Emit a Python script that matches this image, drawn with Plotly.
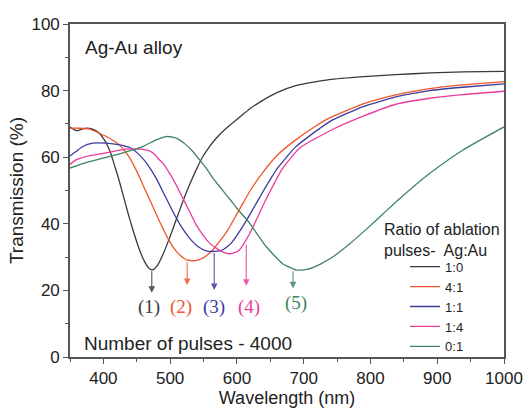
import plotly.graph_objects as go

# ---------------- data ----------------
labels = ["1:0", "4:1", "1:1", "1:4", "0:1"]
colors = ["#3a3a3a", "#f2542c", "#3b3b9c", "#ea3b9b", "#3f8463"]

wl_10 = [349, 356.5, 361.5, 369, 376.5, 386.5, 394, 401.5, 409, 416.5, 424, 431.5, 439, 446.5,
         454, 461.5, 469, 474, 481.5, 489, 499, 509, 519, 529, 539, 549, 559, 569, 584, 601.5,
         620, 638, 660, 688, 738, 790, 838, 890, 938, 1000]
tr_10 = [69.2, 68.2, 68.0, 68.5, 68.7, 68.2, 67.2, 65.2, 62.2, 57.7, 52.7, 47.2, 41.7, 36.7,
         32.2, 28.7, 26.5, 26.2, 27.7, 30.7, 35.7, 41.2, 46.7, 51.7, 56.2, 60.2, 63.2, 65.7, 68.7, 71.6,
         74.6, 77.0, 79.4, 81.5, 83.3, 84.2, 84.8, 85.3, 85.6, 85.8]

wl_41 = [349, 364, 379, 394, 409, 424, 436.5, 449, 461.5, 474, 486.5, 499, 511.5, 524, 536.5,
         549, 561.5, 574, 586.5, 599, 610, 620, 638, 660, 688, 720, 739, 789, 838, 889, 938, 1000]
tr_41 = [68.7, 68.7, 68.5, 67.2, 65.7, 63.7, 60.7, 56.2, 50.7, 45.2, 39.7, 34.7, 31.2, 29.2, 28.9,
         29.7, 31.7, 34.7, 38.2, 42.6, 46.5, 50.0, 55.2, 60.5, 65.2, 69.6, 71.8, 76.0, 78.7, 80.6, 81.7, 82.7]

wl_11 = [349, 359, 369, 384, 404, 424, 441.5, 454, 466.5, 479, 491.5, 504, 516.5, 529, 541.5,
         554, 566.5, 579, 591.5, 604, 620, 640, 660, 688, 739, 789, 838, 889, 938, 1000]
tr_11 = [60.2, 61.7, 63.2, 64.2, 64.2, 63.7, 62.7, 60.7, 57.7, 53.7, 48.7, 43.7, 39.2, 35.7, 33.2,
         31.9, 31.7, 32.2, 34.2, 37.7, 43.0, 50.0, 56.5, 63.1, 70.7, 75.2, 78.1, 80.0, 81.0, 82.0]

wl_14 = [349, 359, 374, 394, 414, 434, 454, 469, 476.5, 481.5, 489, 499, 509, 519, 529, 539,
         549, 559, 569, 579, 589, 599, 604, 619, 644, 668, 694, 744, 790, 838, 889, 938, 1000]
tr_14 = [57.7, 59.2, 60.2, 60.9, 61.7, 62.4, 62.4, 61.9, 60.9, 59.7, 58.2, 55.2, 51.7, 47.7, 43.7, 39.7,
         36.7, 34.2, 32.7, 31.5, 31.0, 31.5, 32.2, 37.0, 47.5, 56.5, 62.8, 68.4, 72.4, 75.9, 77.7, 78.8, 79.8]

wl_01 = [349, 364, 379, 399, 419, 439, 459, 479, 494, 504, 514, 524, 534, 544, 554, 564, 574,
         584, 594, 604, 619, 644, 668, 689, 705, 725, 744, 769, 794, 819, 844, 888, 938, 1000]
tr_01 = [56.7, 57.7, 58.7, 59.7, 60.7, 61.9, 63.2, 65.2, 66.2, 66.0, 65.2, 63.7, 61.7, 59.2, 56.7, 53.7, 51.2,
         48.7, 46.2, 43.7, 40.2, 33.1, 28.1, 26.1, 26.3, 27.9, 30.1, 34.0, 38.4, 43.0, 47.6, 55.0, 62.1, 69.1]

series_wl = [wl_10, wl_41, wl_11, wl_14, wl_01]
series_tr = [tr_10, tr_41, tr_11, tr_14, tr_01]

peak_tags = ["(1)", "(2)", "(3)", "(4)", "(5)"]
arrow_wl = [472.5, 525.5, 566, 614, 684]
arrow_from = [26.2, 28.9, 31.7, 34.2, 26.2]
arrow_to = [19.3, 21.6, 20.1, 21.4, 20.6]
tag_wl = [469, 516.5, 566, 618, 689]
tag_tr = [14.9, 14.9, 14.9, 14.9, 16.3]

x_ticks = [400, 500, 600, 700, 800, 900, 1000]
y_ticks = [0, 20, 40, 60, 80, 100]

FONT = "Liberation Sans, Arial, sans-serif"
SERIF = "Liberation Serif, Times New Roman, serif"

fig = go.Figure()
for wl, tr, lab, col in zip(series_wl, series_tr, labels, colors):
    fig.add_trace(go.Scatter(x=wl, y=tr, mode="lines", name=lab,
                             line=dict(color=col, width=1.3, shape="spline", smoothing=0.5)))

for i in range(5):
    fig.add_annotation(x=arrow_wl[i], y=arrow_to[i], ax=arrow_wl[i], ay=arrow_from[i],
                       xref="x", yref="y", axref="x", ayref="y", text="",
                       showarrow=True, arrowhead=2, arrowsize=1.2, arrowwidth=1.1,
                       arrowcolor=colors[i], opacity=0.85)
    fig.add_annotation(x=tag_wl[i], y=tag_tr[i], xref="x", yref="y", text=peak_tags[i],
                       showarrow=False, font=dict(family=SERIF, size=19, color=colors[i]))

fig.add_annotation(x=0.03, y=0.93, xref="paper", yref="paper", xanchor="left", yanchor="middle",
                   text="Ag-Au alloy", showarrow=False, font=dict(family=FONT, size=19, color="#222"))
fig.add_annotation(x=0.027, y=0.04, xref="paper", yref="paper", xanchor="left", yanchor="middle",
                   text="Number of pulses - 4000", showarrow=False,
                   font=dict(family=FONT, size=19, color="#222"))
fig.add_annotation(x=0.718, y=0.352, xref="paper", yref="paper", xanchor="left", yanchor="middle",
                   text="Ratio of ablation<br>pulses-  Ag:Au", showarrow=False, align="left",
                   font=dict(family=FONT, size=16, color="#222"))

axis_common = dict(showline=True, linecolor="#555", linewidth=1.6, mirror=True,
                   ticks="outside", ticklen=5, tickwidth=1.3, tickcolor="#555",
                   showgrid=False, zeroline=False,
                   tickfont=dict(family=FONT, size=17, color="#222"),
                   minor=dict(ticks="outside", ticklen=3, tickwidth=1.1, tickcolor="#555"))

fig.update_xaxes(range=[350, 1000], tickvals=x_ticks, minor_dtick=50,
                 title=dict(text="Wavelength (nm)", font=dict(family=FONT, size=18, color="#222"), standoff=4),
                 **axis_common)
fig.update_yaxes(range=[0, 100], tickvals=y_ticks, minor_dtick=10,
                 title=dict(text="Transmission (%)", font=dict(family=FONT, size=19, color="#222"), standoff=3),
                 **axis_common)

fig.update_layout(width=526, height=408, margin=dict(l=70, r=22, t=24, b=51, autoexpand=False),
                  paper_bgcolor="white", plot_bgcolor="white",
                  showlegend=True,
                  legend=dict(x=0.772, y=0.316, xanchor="left", yanchor="top",
                              bgcolor="rgba(0,0,0,0)", borderwidth=0,
                              font=dict(family=FONT, size=13, color="#222"),
                              itemwidth=30, tracegroupgap=0))

fig.write_html("out.html")
